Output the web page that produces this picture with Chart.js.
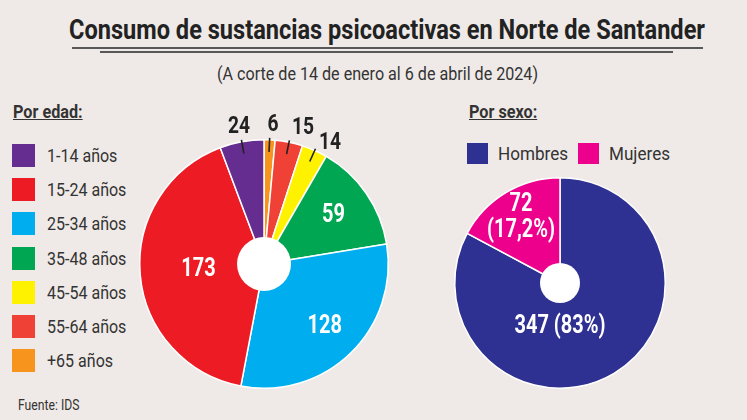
<!DOCTYPE html>
<html>
<head>
<meta charset="utf-8">
<script src="https://cdn.jsdelivr.net/npm/chart.js@4.4.1/dist/chart.umd.min.js"></script>
<style>
  body { margin: 0; width: 747px; height: 420px; overflow: hidden;
         background: #efeae7; font-family: Roboto, "DejaVu Sans", sans-serif; color: #2b2b2b; }
  .fit { position: absolute; white-space: nowrap; transform-origin: 0 0; }
  #title { top: 13px; font-size: 28px; font-weight: bold; color: #222; }
  .rule { position: absolute; height: 2px; background: #585858; }
  #sub { top: 63px; font-size: 18px; color: #333; }
  .head { position: absolute; font-weight: bold; font-size: 18px; text-decoration: underline; color: #333;
          transform: scaleX(0.9); transform-origin: 0 0; white-space: nowrap; }
  .leg { position: absolute; font-size: 18px; color: #333; }
  .leg span.sw { position: absolute; width: 23px; height: 23px; left: 0; }
  .leg span.tx { position: absolute; left: 35px; white-space: nowrap; line-height: 23px;
                 transform: scaleX(0.89); transform-origin: 0 0; }
  canvas { position: absolute; }
  #src { position: absolute; left: 18px; top: 397px; font-size: 14px; color: #333;
         transform: scaleX(0.87); transform-origin: 0 0; }
</style>
</head>
<body>
<div id="title" class="fit" data-x="69" data-w="636">Consumo de sustancias psicoactivas en Norte de Santander</div>
<div class="rule" style="left:72px; width:631px; top:47px;"></div>
<div class="rule" style="left:100px; width:573px; top:51px; height:1.5px;"></div>
<div id="sub" class="fit" data-x="217" data-w="321">(A corte de 14 de enero al 6 de abril de 2024)</div>

<div class="head" style="left:13px; top:101px;">Por edad:</div>
<div id="legAge"></div>
<div class="head" style="left:469px; top:101px;">Por sexo:</div>
<div id="legSex"></div>

<canvas id="ageChart" width="268" height="300" style="left:130px; top:100px;"></canvas>
<canvas id="sexChart" width="240" height="230" style="left:440px; top:170px;"></canvas>

<div id="src">Fuente: IDS</div>

<script>
var ageLabels = ["1-14 años", "15-24 años", "25-34 años", "35-48 años", "45-54 años", "55-64 años", "+65 años"];
var ageValues = [24, 173, 128, 59, 14, 15, 6];
var ageColors = ["#662d91", "#ed1c24", "#00aeef", "#00a651", "#fff200", "#ef4136", "#f7941d"];

var sexLabels = ["Hombres", "Mujeres"];
var sexValues = [347, 72];
var sexText = [["347 (83%)"], ["72", "(17,2%)"]];
var sexColors = ["#2e3192", "#ec008c"];

// squeeze headings to the reference width (no condensed font available)
document.querySelectorAll(".fit").forEach(function (el) {
    var w = el.getBoundingClientRect().width;
    el.style.left = el.dataset.x + "px";
    el.style.transform = "scaleX(" + (el.dataset.w / w) + ")";
});

// legends
var legAge = document.getElementById("legAge");
for (var i = 0; i < ageLabels.length; ++i) {
    var d = document.createElement("div");
    d.className = "leg";
    d.style.left = "12px";
    d.style.top = (144 + i * 34.2) + "px";
    d.innerHTML = '<span class="sw" style="background:' + ageColors[i] + '"></span><span class="tx">' + ageLabels[i] + '</span>';
    legAge.appendChild(d);
}
var legSex = document.getElementById("legSex");
var sexLeft = [467, 578];
for (var i = 0; i < sexLabels.length; ++i) {
    var d = document.createElement("div");
    d.className = "leg";
    d.style.left = sexLeft[i] + "px";
    d.style.top = "142px";
    d.innerHTML = '<span class="sw" style="background:' + sexColors[i] + ';width:21px;height:21px;top:1px"></span><span class="tx" style="left:31px;font-size:19px;transform:scaleX(0.9)">' + sexLabels[i] + '</span>';
    legSex.appendChild(d);
}

var FONT = 'Roboto, "DejaVu Sans", sans-serif';

function narrowText(ctx, s, x, y) {
    ctx.save();
    ctx.translate(x, y);
    ctx.scale(0.8, 1);
    ctx.fillText(s, 0, 0);
    ctx.restore();
}

// white hole + value labels
var pieLabels = {
    id: "pieLabels",
    afterDatasetsDraw: function (chart, args, opts) {
        var ctx = chart.ctx;
        var arcs = chart.getDatasetMeta(0).data;
        var cx = arcs[0].x, cy = arcs[0].y, r = arcs[0].outerRadius;
        ctx.save();
        ctx.fillStyle = "#fff";
        ctx.beginPath();
        ctx.arc(cx, cy, opts.hole, 0, Math.PI * 2);
        ctx.fill();
        ctx.textAlign = "center";
        ctx.textBaseline = "middle";
        arcs.forEach(function (a, i) {
            var lab = opts.labels[i];
            var mid = opts.angle && opts.angle[i] != null ? opts.angle[i] : (a.startAngle + a.endAngle) / 2;
            if (opts.outside && opts.outside[i]) {
                var o = opts.outside[i];
                ctx.strokeStyle = "#222";
                ctx.lineWidth = 1.6;
                ctx.beginPath();
                ctx.moveTo(cx + Math.cos(mid) * (r - 12), cy + Math.sin(mid) * (r - 12));
                ctx.lineTo(cx + Math.cos(mid) * (r + 2), cy + Math.sin(mid) * (r + 2));
                ctx.stroke();
                ctx.fillStyle = "#222";
                ctx.font = "bold 24px " + FONT;
                narrowText(ctx, lab[0], cx + Math.cos(mid + o[1]) * (r + o[0]), cy + Math.sin(mid + o[1]) * (r + o[0]));
            } else {
                var f = opts.dist[i];
                var x = cx + Math.cos(mid) * r * f, y = cy + Math.sin(mid) * r * f;
                ctx.fillStyle = "#fff";
                ctx.font = "bold 25px " + FONT;
                for (var k = 0; k < lab.length; ++k)
                    narrowText(ctx, lab[k], x, y + (k - (lab.length - 1) / 2) * 26);
            }
        });
        ctx.restore();
    }
};

// pie is drawn clockwise from the top in reverse legend order
var ageOrder = [6, 5, 4, 3, 2, 1, 0];
function pick(arr) { return ageOrder.map(function (k) { return arr[k]; }); }

new Chart(document.getElementById("ageChart"), {
    type: "pie",
    data: {
        labels: pick(ageLabels),
        datasets: [{
            data: pick(ageValues),
            backgroundColor: pick(ageColors),
            borderColor: "#fff",
            borderWidth: 1.5
        }]
    },
    options: {
        responsive: false,
        animation: false,
        layout: { padding: { left: 9, right: 9, top: 39, bottom: 11 } },
        plugins: {
            legend: { display: false },
            tooltip: { enabled: false },
            pieLabels: {
                hole: 27,
                labels: pick(ageValues).map(function (v) { return [String(v)]; }),
                dist: [0, 0, 0, 0.68, 0.7, 0.53, 0],
                outside: [[15, 0.02], [17, 0.077], [14, 0.078], null, null, null, [15, 0]]
            }
        }
    },
    plugins: [pieLabels]
});

new Chart(document.getElementById("sexChart"), {
    type: "pie",
    data: {
        labels: sexLabels,
        datasets: [{
            data: sexValues,
            backgroundColor: sexColors,
            borderColor: "#fff",
            borderWidth: 1.5
        }]
    },
    options: {
        responsive: false,
        animation: false,
        layout: { padding: { left: 14, right: 14, top: 7, bottom: 11 } },
        plugins: {
            legend: { display: false },
            tooltip: { enabled: false },
            pieLabels: {
                hole: 20,
                labels: sexText,
                dist: [0.42, 0.72],
                angle: [Math.PI / 2, null]
            }
        }
    },
    plugins: [pieLabels]
});
</script>
</body>
</html>
